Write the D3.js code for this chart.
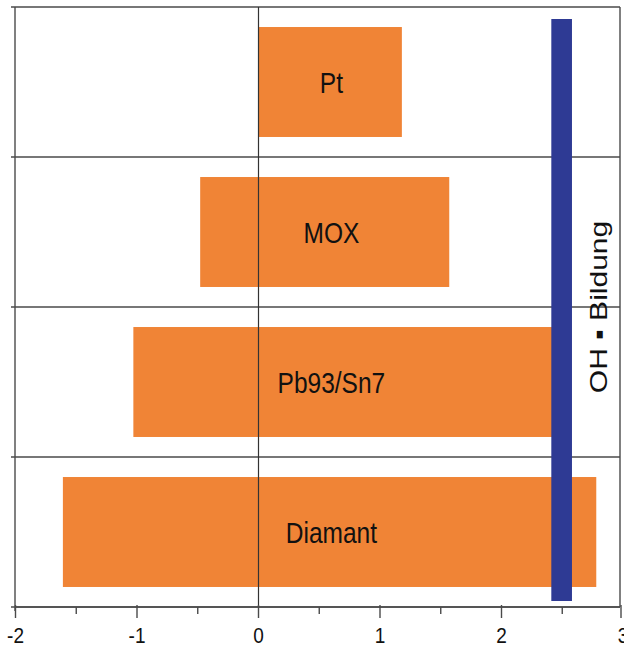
<!DOCTYPE html>
<html>
<head>
<meta charset="utf-8">
<script src="https://cdn.jsdelivr.net/npm/d3@7"></script>
<style>
  html, body { margin: 0; padding: 0; background: #fff; }
  svg { display: block; }
  text { font-family: "Liberation Sans", Arial, sans-serif; fill: #111; }
</style>
</head>
<body>
<svg id="chart" width="624" height="648"></svg>
<script>
// ---- data ----
const categories = ["Pt", "MOX", "Pb93/Sn7", "Diamant"];
const barStart   = [0.0, -0.48, -1.03, -1.61];
const barEnd     = [1.18, 1.57, 2.45, 2.78];
const labelPos   = [0.6, 0.6, 0.6, 0.6];
const xTicksMajor = [-2, -1, 0, 1, 2, 3];
const xTicksMinor = [-1.5, -0.5, 0.5, 1.5, 2.5];
const ohBand     = [2.41, 2.58];   // x extent of the OH• band
const ohSpan     = [0.08, 3.96];   // vertical extent in category units
const ohLabel    = "OH \u25AA Bildung";

// ---- layout ----
const W = 624, H = 648;
const plot = { left: 15, right: 620, top: 7, bottom: 607 };
const orange = "#F08436", blue = "#2E3A94", lineCol = "#4a4a4a";

const svg = d3.select("#chart");
const x = d3.scaleLinear().domain([-2, 3]).range([plot.left + 0.5, 623]);
const y = d3.scaleBand().domain(categories).range([plot.top, plot.bottom])
  .paddingInner(0.267).paddingOuter(0.1335);
const yLin = d3.scaleLinear().domain([0, categories.length]).range([plot.top, plot.bottom]);

const rows = categories.map((c, i) => ({ c, s: barStart[i], e: barEnd[i], lx: labelPos[i] }));

// horizontal category separators (left-axis ticks extend past the axis)
const bounds = d3.range(0, categories.length + 1);
svg.append("g").selectAll("line").data(bounds).join("line")
  .attr("x1", plot.left - 4).attr("x2", plot.right)
  .attr("y1", d => yLin(d)).attr("y2", d => yLin(d))
  .attr("stroke", lineCol).attr("stroke-width", 1.4);

// left & right frame
svg.append("line").attr("x1", plot.left).attr("x2", plot.left)
  .attr("y1", plot.top).attr("y2", plot.bottom + 4)
  .attr("stroke", lineCol).attr("stroke-width", 1.4);
svg.append("line").attr("x1", plot.right).attr("x2", plot.right)
  .attr("y1", plot.top).attr("y2", plot.bottom)
  .attr("stroke", lineCol).attr("stroke-width", 1.4);

// bars
svg.append("g").selectAll("rect").data(rows).join("rect")
  .attr("x", d => x(Math.min(d.s, d.e)))
  .attr("width", d => Math.abs(x(d.e) - x(d.s)))
  .attr("y", d => y(d.c))
  .attr("height", y.bandwidth())
  .attr("fill", orange);

// zero line
svg.append("line").attr("x1", x(0)).attr("x2", x(0))
  .attr("y1", plot.top).attr("y2", plot.bottom)
  .attr("stroke", "#333").attr("stroke-width", 1.2);

// OH band
svg.append("rect")
  .attr("x", x(ohBand[0])).attr("width", x(ohBand[1]) - x(ohBand[0]))
  .attr("y", yLin(ohSpan[0])).attr("height", yLin(ohSpan[1]) - yLin(ohSpan[0]))
  .attr("fill", blue);

// category labels
svg.append("g").selectAll("text").data(rows).join("text")
  .attr("transform", d => `translate(${x(d.lx)},${y(d.c) + y.bandwidth() / 2}) scale(1,1.2)`)
  .attr("text-anchor", "middle").attr("dy", "0.36em")
  .style("font-size", "24.5px")
  .text(d => d.c);

// OH label (rotated)
svg.append("text")
  .attr("transform", `translate(${x(2.8)},${yLin(2.0)}) scale(1,1.25) rotate(-90)`)
  .attr("text-anchor", "middle").attr("dy", "0.36em")
  .style("font-size", "24px")
  .text(ohLabel);

// bottom axis
const axG = svg.append("g").attr("transform", `translate(0,${plot.bottom})`);
axG.append("line").attr("x1", plot.left).attr("x2", plot.right)
  .attr("stroke", lineCol).attr("stroke-width", 1.4);
axG.selectAll("line.maj").data(xTicksMajor).join("line").attr("class", "maj")
  .attr("x1", d => Math.min(x(d), plot.right + 1)).attr("x2", d => Math.min(x(d), plot.right + 1))
  .attr("y1", -2).attr("y2", 11)
  .attr("stroke", lineCol).attr("stroke-width", 1.4);
axG.selectAll("line.min").data(xTicksMinor).join("line").attr("class", "min")
  .attr("x1", d => x(d)).attr("x2", d => x(d))
  .attr("y1", 0).attr("y2", 7)
  .attr("stroke", lineCol).attr("stroke-width", 1.4);
axG.selectAll("text").data(xTicksMajor).join("text")
  .attr("transform", d => `translate(${x(d)},36) scale(1,1.2)`)
  .attr("text-anchor", "middle")
  .style("font-size", "19px")
  .text(d => String(d));
</script>
</body>
</html>
